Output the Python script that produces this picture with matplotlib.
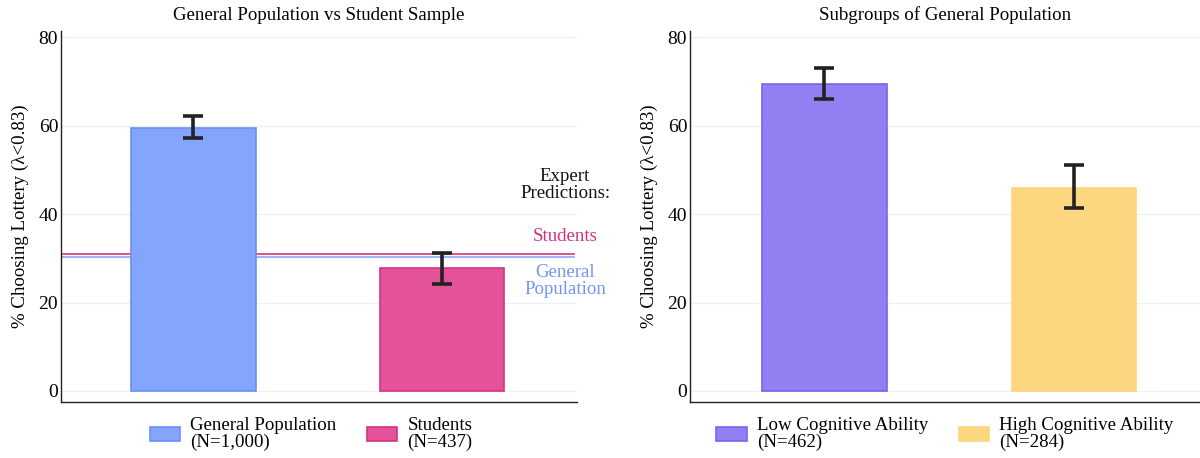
import matplotlib
matplotlib.use("Agg")
import matplotlib.pyplot as plt

plt.rcParams['font.family'] = ['Liberation Serif', 'DejaVu Serif']

# Data
left_labels = ["General Population\n(N=1,000)", "Students\n(N=437)"]
left_values = [59.5, 27.7]
left_err_low = [57.1, 24.2]
left_err_high = [62.1, 31.2]
pred_students = 31.0
pred_general = 30.2

right_labels = ["Low Cognitive Ability\n(N=462)", "High Cognitive Ability\n(N=284)"]
right_values = [69.5, 46.0]
right_err_low = [66.0, 41.3]
right_err_high = [73.0, 51.0]

yticks = [0, 20, 40, 60, 80]

left_colors = ["#84a5fc", "#e45399"]
left_edges = ["#6d8ff5", "#d6337f"]
right_colors = ["#927ff2", "#fdd77f"]
right_edges = ["#7b63ee", "#fdd77f"]

FS = 13.6

fig = plt.figure(figsize=(12, 4.58), dpi=100)
ax1 = fig.add_axes([61/1200, 56/458, 516/1200, 371/458])
ax2 = fig.add_axes([690/1200, 56/458, 510/1200, 371/458])

def draw(ax, labels, values, lo, hi, colors, edges, title, xlim, legx):
    x = list(range(len(values)))
    yerr = [[v - l for v, l in zip(values, lo)], [h - v for v, h in zip(values, hi)]]
    bars = ax.bar(x, values, width=0.5, color=colors, edgecolor=edges, linewidth=1.2,
                  label=labels, zorder=2)
    ax.errorbar(x, values, yerr=yerr, fmt='none', ecolor='#222222', elinewidth=2.6,
                capsize=7.5, capthick=2.6, zorder=3)
    ax.set_ylim(-2.5, 81.4)
    ax.set_xlim(*xlim)
    ax.set_yticks(yticks)
    ax.set_xticks([])
    ax.tick_params(axis='y', length=0, labelsize=14, pad=2)
    ax.grid(axis='y', color='#edf1f4', linewidth=1, zorder=0)
    ax.set_axisbelow(True)
    for s in ['top', 'right']:
        ax.spines[s].set_visible(False)
    for s in ['left', 'bottom']:
        ax.spines[s].set_color('#222222')
        ax.spines[s].set_linewidth(1.0)
    ax.set_title(title, fontsize=FS, pad=8)
    ax.set_ylabel("% Choosing Lottery (λ<0.83)", fontsize=FS, labelpad=7)
    leg = ax.legend(handles=bars.patches, labels=labels, loc='upper center',
                    bbox_to_anchor=(legx, -0.010), ncol=2, frameon=False, fontsize=FS,
                    handlelength=1.6, handleheight=0.75, columnspacing=1.6,
                    handletextpad=0.55, labelspacing=0.2, borderaxespad=0.2)
    for t in leg.get_texts():
        t.set_linespacing(1.0)

draw(ax1, left_labels, left_values, left_err_low, left_err_high, left_colors, left_edges,
     "General Population vs Student Sample", (-0.533, 1.543), 0.485)
draw(ax2, right_labels, right_values, right_err_low, right_err_high, right_colors, right_edges,
     "Subgroups of General Population", (-0.539, 1.505), 0.5)

ax1.axhline(pred_students, xmin=0, xmax=0.995, color='#d6337f', linewidth=1.2, zorder=1)
ax1.axhline(pred_general, xmin=0, xmax=0.995, color='#8aa8fa', linewidth=1.2, zorder=1)

ax1.text(1.495, 46.6, "Expert\nPredictions:", ha='center', va='center', fontsize=FS,
         color='#111111', linespacing=0.95)
ax1.text(1.495, 35.0, "Students", ha='center', va='center', fontsize=FS, color='#d6307d')
ax1.text(1.495, 24.9, "General\nPopulation", ha='center', va='center', fontsize=FS,
         color='#6f95f7', linespacing=0.95)

fig.savefig("out.png", dpi=100)
